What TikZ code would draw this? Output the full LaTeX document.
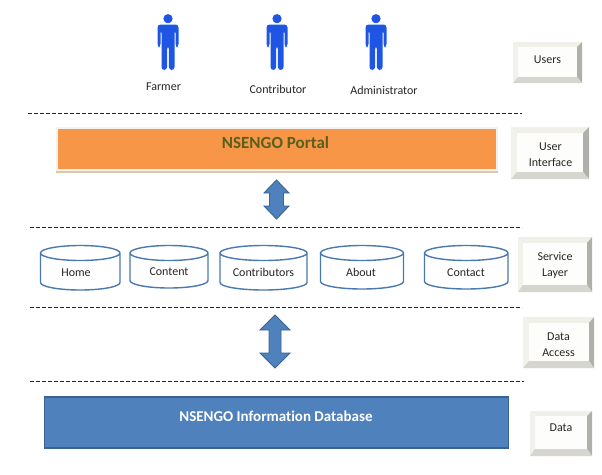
\documentclass[tikz,border=0pt]{standalone}
\usepackage{fontspec}
\setmainfont[RawFeature={-liga}]{Carlito}
\usetikzlibrary{calc}
\definecolor{personblue}{HTML}{1F55E3}
\definecolor{arrowfill}{HTML}{4F81BD}
\definecolor{arrowline}{HTML}{3A6391}
\definecolor{cylline}{HTML}{4A78B0}
\definecolor{portalfill}{HTML}{F79646}
\definecolor{portaltext}{HTML}{5A5F1E}
\definecolor{bevelface}{HTML}{FDFDFB}
\definecolor{beveltop}{HTML}{F0F0E9}
\definecolor{bevelleft}{HTML}{F2F2EC}
\definecolor{bevelright}{HTML}{B0B0AA}
\definecolor{bevelbottom}{HTML}{D6D6CF}
\tikzset{
  x=1pt,y=-1pt,
  lbl/.style={font=\fontsize{12}{16}\selectfont,text=black!85,align=center,inner sep=0pt},
  divider/.style={dash pattern=on 3.6pt off 2.4pt,line width=0.8pt,draw=black!85},
  dblarrow/.style={fill=arrowfill,draw=arrowline,line width=0.9pt,line join=miter},
  cyl/.style={draw=cylline,line width=1.4pt,fill=white},
}
% bevelled label box: outer corners, inner corners, name, centre of text, text
\newcommand{\bevelbox}[7]{%
  \path (#1) coordinate (o1) (#2) coordinate (o2) (#3) coordinate (i1) (#4) coordinate (i2);
  \fill[beveltop] (o1) -- (o1-|o2) -- (i1-|i2) -- (i1) -- cycle;
  \fill[bevelleft] (o1) -- (o2-|o1) -- (i2-|i1) -- (i1) -- cycle;
  \fill[bevelright] (o2) -- (o1-|o2) -- (i1-|i2) -- (i2) -- cycle;
  \fill[bevelbottom] (o2) -- (o2-|o1) -- (i2-|i1) -- (i2) -- cycle;
  \fill[bevelface] (i1) rectangle (i2);
  \node[lbl] (#5) at (#6) {#7};
}
% cylinder: name, x1, x2, y1, y2, label position, label
\newcommand{\cylshape}[7]{%
  \draw[cyl] (#2,#4+7.5) -- (#2,#5-7.5) arc[start angle=180,end angle=360,x radius=(#3-#2)/2,y radius=-7.5]
     -- (#3,#4+7.5) arc[start angle=0,end angle=360,x radius=(#3-#2)/2,y radius=-7.5];
  \node[lbl] (#1) at (#6) {#7};
}
% double arrow: name, cx, top, bottom, half head, half shaft, head length
\newcommand{\dblarrow}[7]{%
  \draw[dblarrow] (#2,#3) -- (#2+#5,#3+#7) -- (#2+#6,#3+#7) -- (#2+#6,#4-#7) -- (#2+#5,#4-#7)
     -- (#2,#4) -- (#2-#5,#4-#7) -- (#2-#6,#4-#7) -- (#2-#6,#3+#7) -- (#2-#5,#3+#7) -- cycle;
  \coordinate (#1) at (#2,{(#3+#4)/2});
}
\newcommand{\person}[2]{%
  \begin{scope}[shift={(#2,0)}]
    \coordinate (#1) at (0,45);
    \fill[personblue] (0,18.7) circle[radius=4.6];
    \fill[personblue,rounded corners=3pt] (-10.5,47) -- (-10.5,24.5) -- (10.5,24.5) -- (10.5,47) -- (7.5,47) -- (7.5,30) -- (6.5,30) -- (6.5,70) -- (0.9,70) -- (0.9,46) -- (-0.9,46) -- (-0.9,70) -- (-6.5,70) -- (-6.5,30) -- (-7.5,30) -- (-7.5,47) -- cycle;
  \end{scope}
}
\begin{document}
\begin{tikzpicture}
\useasboundingbox (0,0) rectangle (602,474);
\fill[white] (0,0) rectangle (602,474);
% people
\person{pFarmer}{168}
\person{pContrib}{277}
\person{pAdmin}{376}
\node[lbl] (farmer) at (163.5,87) {Farmer};
\node[lbl] (contributor) at (278,89) {Contributor};
\node[lbl] (administrator) at (384,90) {Administrator};
% dividers
\coordinate (d1a) at (28,113); \coordinate (d1b) at (522,113);
\coordinate (d2a) at (30,227); \coordinate (d2b) at (522,227);
\coordinate (d3a) at (30,307); \coordinate (d3b) at (522,307);
\coordinate (d4a) at (30,381); \coordinate (d4b) at (524,381);
\draw[divider] (d1a) -- (d1b);
\draw[divider] (d2a) -- (d2b);
\draw[divider] (d3a) -- (d3b);
\draw[divider] (d4a) -- (d4b);
% portal
\fill[black!5] (56,127) rectangle (498,171);
\fill[portalfill] (58,129) rectangle (496,169);
\fill[brown!45!white] (56,171) rectangle (498,173);
\node[font=\bfseries\fontsize{17}{19}\selectfont,text=portaltext,inner sep=0pt] (portal) at (275.5,143) {NSENGO Portal};
% arrows
\dblarrow{a1}{276.5}{180}{219}{12.5}{7}{13}
\dblarrow{a2}{275}{315}{368}{15}{6}{15}
% cylinders
\cylshape{home}{40.5}{120}{245.5}{290}{76,272.5}{Home}
\cylshape{content}{130}{208}{245.5}{288}{169,271.5}{Content}
\cylshape{contributors}{220}{307}{245.5}{290}{263.5,272.5}{Contributors}
\cylshape{about}{320.5}{403.5}{245.5}{289}{361,272.5}{About}
\cylshape{contact}{424.5}{508}{245.5}{289}{466,272.5}{Contact}
% database
\draw[fill=arrowfill,draw=arrowline,line width=1.1pt] (44.5,397) rectangle (508.5,448);
\node[font=\bfseries\fontsize{15}{17}\selectfont,text=white,inner sep=0pt] (db) at (276,416) {NSENGO Information Database};
% side labels
\bevelbox{513,42}{582,83}{518,47}{577,77}{users}{547.5,60}{Users}
\bevelbox{511,127}{589,179}{517,133}{583,172}{ui}{550.5,155}{User\\Interface}
\bevelbox{518,237}{592,292}{523,243}{587,285}{service}{555,265}{Service\\Layer}
\bevelbox{523,317}{594,368}{529,323}{589,361}{access}{558.5,345}{Data\\Access}
\bevelbox{530,411}{592,456}{535,416}{587,449}{data}{561,428}{Data}
\end{tikzpicture}
\end{document}
